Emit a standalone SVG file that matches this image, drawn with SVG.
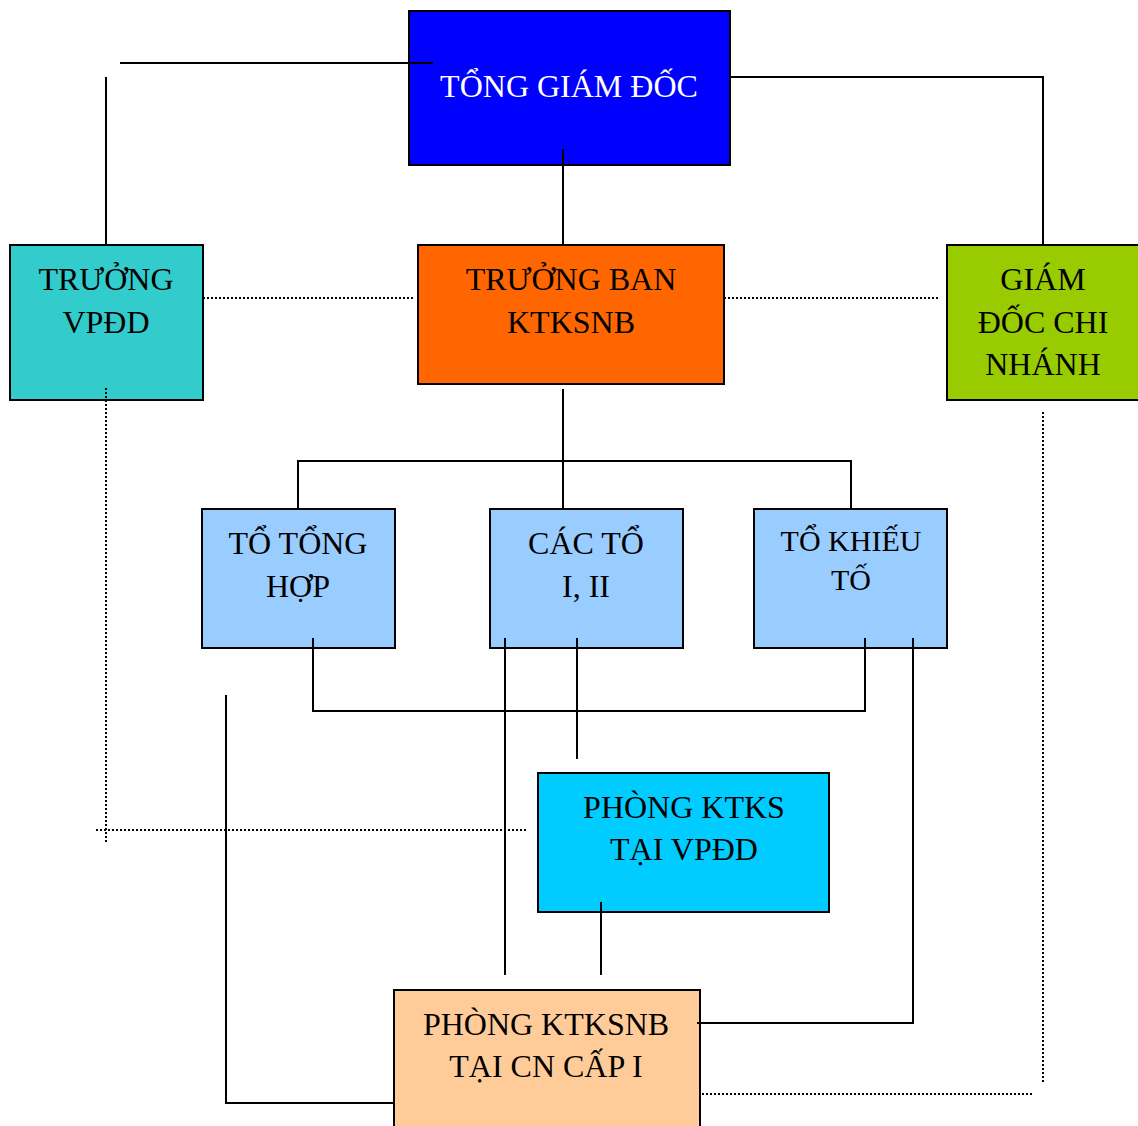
<svg xmlns="http://www.w3.org/2000/svg" width="1138" height="1126" viewBox="0 0 1138 1126">
<style>
.box{stroke:#000;stroke-width:2}
.t{font-family:"Liberation Serif","Times New Roman",serif;font-size:32px;text-anchor:middle;fill:#000}
.w{fill:#fff}
.ln{fill:none;stroke:#000;stroke-width:2}
.dt{fill:none;stroke:#000;stroke-width:2;stroke-dasharray:2 2}
</style>
<rect width="1138" height="1126" fill="#fff"/>
<g id="tgd"><rect class="box" x="409" y="11" width="321" height="154" fill="#0000FF"/><text class="t w" x="569" y="97">TỔNG GIÁM ĐỐC</text></g>
<g id="vpdd"><rect class="box" x="10" y="245" width="193" height="155" fill="#33CCCC"/><text class="t" x="106" y="290">TRƯỞNG</text><text class="t" x="106" y="333">VPĐD</text></g>
<g id="ban"><rect class="box" x="418" y="245" width="306" height="139" fill="#FF6600"/><text class="t" x="571" y="290">TRƯỞNG BAN</text><text class="t" x="571" y="333">KTKSNB</text></g>
<g id="gdcn"><rect class="box" x="947" y="245" width="195" height="155" fill="#99CC00"/><text class="t" x="1043" y="290">GIÁM</text><text class="t" x="1043" y="333">ĐỐC CHI</text><text class="t" x="1043" y="375">NHÁNH</text></g>
<g id="tth"><rect class="box" x="202" y="509" width="193" height="139" fill="#99CCFF"/><text class="t" x="298" y="554">TỔ TỔNG</text><text class="t" x="298" y="597">HỢP</text></g>
<g id="cacto"><rect class="box" x="490" y="509" width="193" height="139" fill="#99CCFF"/><text class="t" x="586" y="554">CÁC TỔ</text><text class="t" x="586" y="597">I, II</text></g>
<g id="tkt"><rect class="box" x="754" y="509" width="193" height="139" fill="#99CCFF"/><text class="t" x="851" y="551" style="font-size:30px">TỔ KHIẾU</text><text class="t" x="851" y="590" style="font-size:30px">TỐ</text></g>
<g id="pvpdd"><rect class="box" x="538" y="773" width="291" height="139" fill="#00CCFF"/><text class="t" x="684" y="818">PHÒNG KTKS</text><text class="t" x="684" y="860">TẠI VPĐD</text></g>
<g id="pcn"><rect class="box" x="394" y="990" width="306" height="145" fill="#FFCC99"/><text class="t" x="546" y="1035">PHÒNG KTKSNB</text><text class="t" x="546" y="1077">TẠI CN CẤP I</text></g>
<g id="connectors">
<path class="ln" d="M120 63H433M106 77V245M730 77H1043V245M563 149V245"/>
<path class="ln" d="M563 389V509M298 509V461H851V509"/>
<path class="ln" d="M313 638V711H865V638M505 638V975M577 638V759M913 638V1023H697M226 695V1103H394M601 902V975"/>
<path class="dt" d="M203 298H414M724 298H940M106 388V842M96 830H527M1043 412V1083M702 1094H1034"/>
</g>
</svg>
